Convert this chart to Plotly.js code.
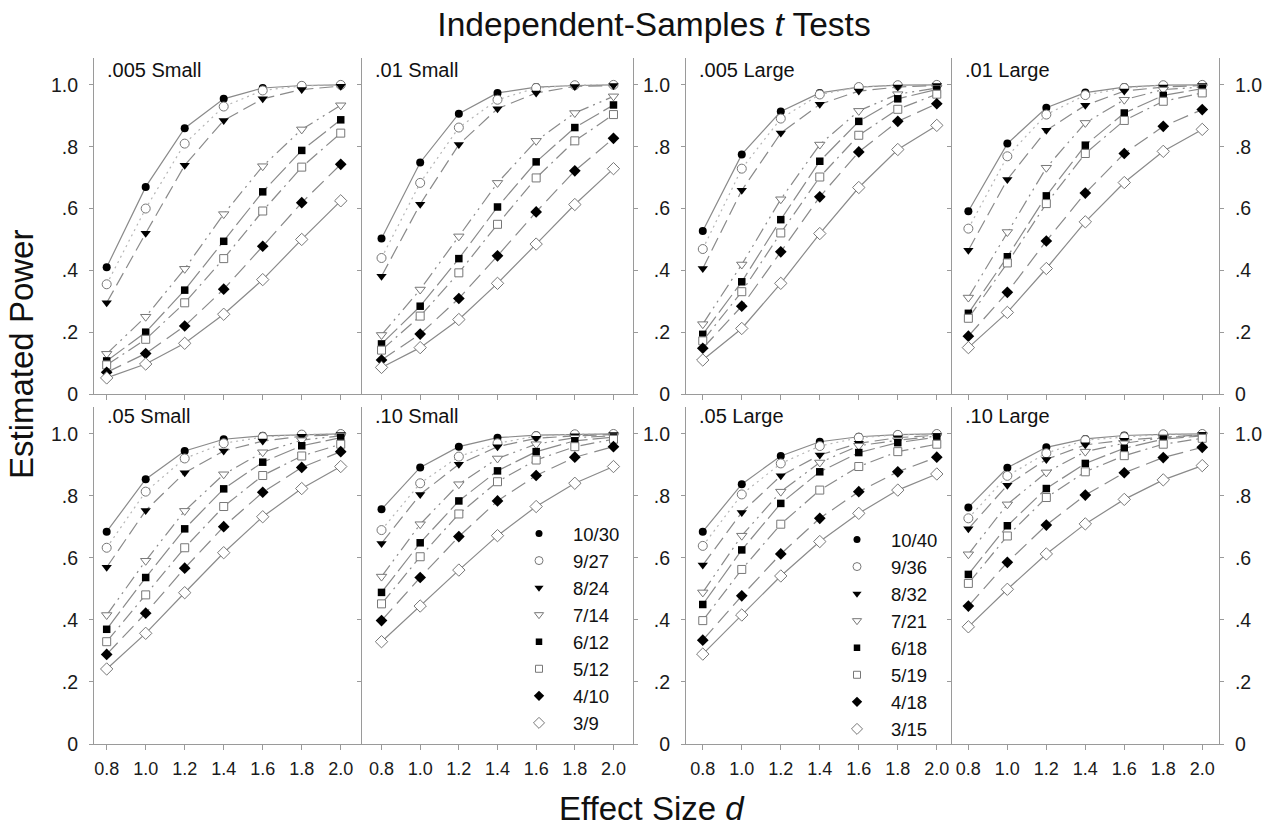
<!DOCTYPE html>
<html>
<head>
<meta charset="utf-8">
<script src="https://cdn.plot.ly/plotly-3.0.1.min.js"></script>
<style>
  html, body { margin: 0; padding: 0; background: #fff; }
  #chart { width: 1275px; height: 827px; }
</style>
</head>
<body>
<div id="chart"></div>
<script>
// ---------------- DATA ----------------
const effectSizes = [0.8, 1.0, 1.2, 1.4, 1.6, 1.8, 2.0];
const xTickLabels = ['0.8', '1.0', '1.2', '1.4', '1.6', '1.8', '2.0'];
const yTickVals = [0, 0.2, 0.4, 0.6, 0.8, 1.0];
const yTickLabels = ['0', '.2', '.4', '.6', '.8', '1.0'];

const panelLabels = ['.005 Small', '.01 Small', '.005 Large', '.01 Large',
                     '.05 Small', '.10 Small', '.05 Large', '.10 Large'];
const smallDesigns = ['10/30', '9/27', '8/24', '7/14', '6/12', '5/12', '4/10', '3/9'];
const largeDesigns = ['10/40', '9/36', '8/32', '7/21', '6/18', '5/19', '4/18', '3/15'];

// estimated power, one row per design (order as in the legends)
const power005Small = [
  [0.410, 0.670, 0.860, 0.955, 0.990, 0.998, 1.000],
  [0.355, 0.600, 0.810, 0.930, 0.982, 0.997, 1.000],
  [0.295, 0.520, 0.740, 0.885, 0.955, 0.985, 0.996],
  [0.130, 0.250, 0.405, 0.582, 0.737, 0.856, 0.934],
  [0.107, 0.200, 0.336, 0.494, 0.654, 0.788, 0.887],
  [0.094, 0.177, 0.295, 0.438, 0.592, 0.734, 0.844],
  [0.070, 0.131, 0.220, 0.339, 0.478, 0.619, 0.743],
  [0.052, 0.097, 0.164, 0.258, 0.370, 0.500, 0.625]
];
const power01Small = [
  [0.503, 0.749, 0.907, 0.974, 0.993, 0.998, 1.000],
  [0.440, 0.683, 0.862, 0.952, 0.990, 0.999, 1.000],
  [0.381, 0.614, 0.807, 0.923, 0.974, 0.995, 0.998],
  [0.191, 0.338, 0.510, 0.683, 0.819, 0.909, 0.963],
  [0.162, 0.284, 0.438, 0.605, 0.751, 0.862, 0.935],
  [0.142, 0.252, 0.392, 0.549, 0.699, 0.819, 0.904],
  [0.110, 0.194, 0.309, 0.447, 0.589, 0.722, 0.827],
  [0.086, 0.150, 0.241, 0.358, 0.485, 0.613, 0.729]
];
const power005Large = [
  [0.527, 0.775, 0.914, 0.974, 0.993, 0.999, 1.000],
  [0.469, 0.729, 0.891, 0.969, 0.993, 0.999, 1.000],
  [0.406, 0.659, 0.844, 0.937, 0.980, 0.993, 0.998],
  [0.226, 0.419, 0.630, 0.807, 0.916, 0.970, 0.990],
  [0.193, 0.363, 0.564, 0.753, 0.882, 0.955, 0.985],
  [0.172, 0.331, 0.521, 0.702, 0.837, 0.921, 0.970],
  [0.148, 0.284, 0.460, 0.638, 0.783, 0.882, 0.939],
  [0.110, 0.212, 0.358, 0.519, 0.668, 0.791, 0.869]
];
const power01Large = [
  [0.591, 0.810, 0.926, 0.975, 0.993, 0.999, 1.000],
  [0.535, 0.769, 0.904, 0.967, 0.990, 0.999, 1.000],
  [0.465, 0.694, 0.853, 0.934, 0.980, 0.993, 0.998],
  [0.312, 0.524, 0.732, 0.877, 0.952, 0.985, 0.993],
  [0.261, 0.444, 0.641, 0.805, 0.909, 0.966, 0.988],
  [0.245, 0.424, 0.616, 0.778, 0.885, 0.947, 0.974],
  [0.187, 0.329, 0.495, 0.650, 0.778, 0.866, 0.920],
  [0.150, 0.264, 0.406, 0.557, 0.684, 0.785, 0.856]
];
const power05Small = [
  [0.685, 0.854, 0.945, 0.983, 0.994, 0.998, 1.000],
  [0.633, 0.814, 0.921, 0.970, 0.990, 0.998, 1.000],
  [0.570, 0.753, 0.875, 0.945, 0.977, 0.993, 0.998],
  [0.416, 0.591, 0.752, 0.870, 0.941, 0.980, 0.994],
  [0.370, 0.537, 0.694, 0.823, 0.909, 0.962, 0.988],
  [0.330, 0.481, 0.633, 0.766, 0.866, 0.929, 0.967],
  [0.289, 0.422, 0.567, 0.701, 0.812, 0.892, 0.943],
  [0.242, 0.357, 0.488, 0.617, 0.733, 0.824, 0.895]
];
const power10Small = [
  [0.757, 0.892, 0.959, 0.988, 0.996, 0.999, 1.000],
  [0.690, 0.841, 0.927, 0.970, 0.993, 0.999, 1.000],
  [0.647, 0.805, 0.902, 0.959, 0.986, 0.994, 0.998],
  [0.540, 0.709, 0.838, 0.921, 0.967, 0.988, 0.994],
  [0.489, 0.649, 0.784, 0.881, 0.943, 0.978, 0.990],
  [0.452, 0.604, 0.742, 0.846, 0.916, 0.959, 0.983],
  [0.398, 0.537, 0.669, 0.784, 0.866, 0.925, 0.959],
  [0.330, 0.445, 0.561, 0.672, 0.766, 0.841, 0.895]
];
const power05Large = [
  [0.685, 0.838, 0.929, 0.975, 0.991, 0.998, 1.000],
  [0.639, 0.805, 0.905, 0.961, 0.988, 0.997, 1.000],
  [0.577, 0.747, 0.865, 0.932, 0.970, 0.988, 0.996],
  [0.489, 0.672, 0.814, 0.908, 0.962, 0.980, 0.993],
  [0.450, 0.626, 0.776, 0.878, 0.940, 0.972, 0.990],
  [0.398, 0.563, 0.709, 0.819, 0.895, 0.943, 0.967],
  [0.335, 0.478, 0.613, 0.728, 0.814, 0.878, 0.925],
  [0.290, 0.416, 0.542, 0.653, 0.744, 0.819, 0.871]
];
const power10Large = [
  [0.763, 0.891, 0.957, 0.984, 0.995, 0.999, 1.000],
  [0.728, 0.865, 0.938, 0.980, 0.990, 0.999, 1.000],
  [0.694, 0.835, 0.918, 0.965, 0.980, 0.990, 0.998],
  [0.612, 0.773, 0.876, 0.943, 0.970, 0.988, 0.996],
  [0.547, 0.704, 0.824, 0.905, 0.954, 0.983, 0.994],
  [0.518, 0.671, 0.795, 0.878, 0.930, 0.967, 0.986],
  [0.445, 0.586, 0.706, 0.803, 0.875, 0.924, 0.957],
  [0.378, 0.499, 0.613, 0.710, 0.789, 0.852, 0.898]
];

const panelData = [power005Small, power01Small, power005Large, power01Large,
                   power05Small, power10Small, power05Large, power10Large];
const panelDesigns = [smallDesigns, smallDesigns, largeDesigns, largeDesigns,
                      smallDesigns, smallDesigns, largeDesigns, largeDesigns];

// ---------------- STYLE ----------------
const FONT = 'Liberation Sans, Arial, Helvetica, sans-serif';
const W = 1275, H = 827;
const AX = '#9a9a9a';
const LINE = '#8a8a8a';
const symbols = ['circle', 'circle', 'triangle-down', 'triangle-down', 'square', 'square', 'diamond', 'diamond'];
const filled  = [true, false, true, false, true, false, true, false];
const msize   = [8, 9, 9, 9, 7.5, 8, 9, 9.5];
const dashes  = ['solid', '2px,4px', '14px,6px', '14px,5px,2px,5px,2px,5px',
                 '22px,5px', '14px,5px,2px,5px', '16px,7px', 'solid'];
const lcolors = [LINE, '#b5b5b5', LINE, LINE, LINE, LINE, LINE, LINE];

// panel geometry (pixels)
const colPx = [[94, 362], [362, 633], [686, 952], [952, 1219]];
const colRange = [[0.735, 2.109], [0.699, 2.101], [0.714, 2.078], [0.716, 2.086]];
const rowPx = [[58, 394], [407, 744]];
const yRange = [0, 1.087];

const fx = p => p / W;
const fy = p => 1 - p / H;

const traces = [];
const layout = {
  width: W, height: H,
  margin: {l: 0, r: 0, t: 0, b: 0},
  paper_bgcolor: '#fff', plot_bgcolor: 'rgba(0,0,0,0)',
  font: {family: FONT, color: '#111'},
  title: {
    text: 'Independent-Samples <i>t</i> Tests',
    x: fx(654), xanchor: 'center', y: fy(24), yanchor: 'middle',
    font: {family: FONT, size: 33.5, color: '#111'}
  },
  showlegend: true,
  annotations: [],
  legend: {
    x: fx(505), xanchor: 'left', y: fy(515), yanchor: 'top',
    bgcolor: 'rgba(0,0,0,0)', borderwidth: 0, itemwidth: 58,
    font: {family: FONT, size: 18.5, color: '#111'}, tracegroupgap: 0
  },
  legend2: {
    x: fx(823), xanchor: 'left', y: fy(521), yanchor: 'top',
    bgcolor: 'rgba(0,0,0,0)', borderwidth: 0, itemwidth: 58,
    font: {family: FONT, size: 18.5, color: '#111'}, tracegroupgap: 0
  }
};

for (let p = 0; p < 8; p++) {
  const row = Math.floor(p / 4), col = p % 4;
  const xid = p === 0 ? 'x' : 'x' + (p + 1);
  const yid = p === 0 ? 'y' : 'y' + (p + 1);
  const xkey = p === 0 ? 'xaxis' : 'xaxis' + (p + 1);
  const ykey = p === 0 ? 'yaxis' : 'yaxis' + (p + 1);

  layout[xkey] = {
    domain: [fx(colPx[col][0]), fx(colPx[col][1])],
    anchor: yid, range: colRange[col],
    tickvals: effectSizes, ticktext: xTickLabels,
    showticklabels: row === 1,
    ticks: 'outside', ticklen: 5, tickcolor: AX, tickwidth: 1,
    showline: true, linecolor: AX, linewidth: 1,
    showgrid: false, zeroline: false, fixedrange: true,
    tickfont: {family: FONT, size: 18, color: '#1a1a1a'},
    ticklabelstandoff: 3
  };
  const rightSide = col === 3;
  const showY = col === 0 || col === 2 || col === 3;
  layout[ykey] = {
    domain: [fy(rowPx[row][1]), fy(rowPx[row][0])],
    anchor: xid, range: yRange,
    tickvals: yTickVals, ticktext: yTickLabels,
    showticklabels: showY,
    side: rightSide ? 'right' : 'left',
    mirror: (col === 1 || col === 3) ? 'ticks' : false,
    ticks: 'outside', ticklen: 4, tickcolor: AX, tickwidth: 1,
    showline: true, linecolor: AX, linewidth: 1,
    showgrid: false, zeroline: false, fixedrange: true,
    tickfont: {family: FONT, size: 19.5, color: '#1a1a1a'},
    ticklabelstandoff: 7
  };

  const data = panelData[p];
  for (let s = 0; s < data.length; s++) {
    traces.push({
      type: 'scatter', mode: 'lines+markers',
      x: effectSizes, y: data[s], xaxis: xid, yaxis: yid,
      name: panelDesigns[p][s], showlegend: false,
      line: {color: lcolors[s], width: 1.2, dash: dashes[s]},
      marker: {
        symbol: symbols[s], size: msize[s],
        color: filled[s] ? '#000' : '#fff',
        line: {color: filled[s] ? '#000' : '#777', width: filled[s] ? 0 : 1}
      },
      hoverinfo: 'skip'
    });
  }

  const labelCy = row === 0 ? 70.5 : 416.5;
  layout.annotations.push({
    xref: 'paper', yref: 'paper',
    x: fx(colPx[col][0] + 11), xanchor: 'left',
    y: fy(labelCy), yanchor: 'middle',
    text: panelLabels[p], showarrow: false,
    font: {family: FONT, size: 20, color: '#111'}
  });
}

// legend entries (markers only) for panels ".10 Small" and ".05 Large"
const legendSets = [[smallDesigns, 'legend', 'x6', 'y6'], [largeDesigns, 'legend2', 'x7', 'y7']];
legendSets.forEach(([names, lg, xa, ya]) => {
  names.forEach((nm, s) => {
    traces.push({
      type: 'scatter', mode: 'markers', x: [null], y: [null],
      xaxis: xa, yaxis: ya, name: nm, legend: lg, showlegend: true,
      marker: {
        symbol: symbols[s], size: msize[s] - 1,
        color: filled[s] ? '#000' : '#fff',
        line: {color: filled[s] ? '#000' : '#777', width: filled[s] ? 0 : 1}
      },
      hoverinfo: 'skip'
    });
  });
});

// shared axis titles
layout.annotations.push({
  xref: 'paper', yref: 'paper', x: fx(21), y: fy(355),
  xanchor: 'center', yanchor: 'middle', textangle: -90,
  text: 'Estimated Power', showarrow: false,
  font: {family: FONT, size: 33, color: '#111'}
});
layout.annotations.push({
  xref: 'paper', yref: 'paper', x: fx(652), y: fy(808),
  xanchor: 'center', yanchor: 'middle',
  text: 'Effect Size <i>d</i>', showarrow: false,
  font: {family: FONT, size: 33, color: '#111'}
});

Plotly.newPlot('chart', traces, layout, {displayModeBar: false, staticPlot: true});
</script>
</body>
</html>
